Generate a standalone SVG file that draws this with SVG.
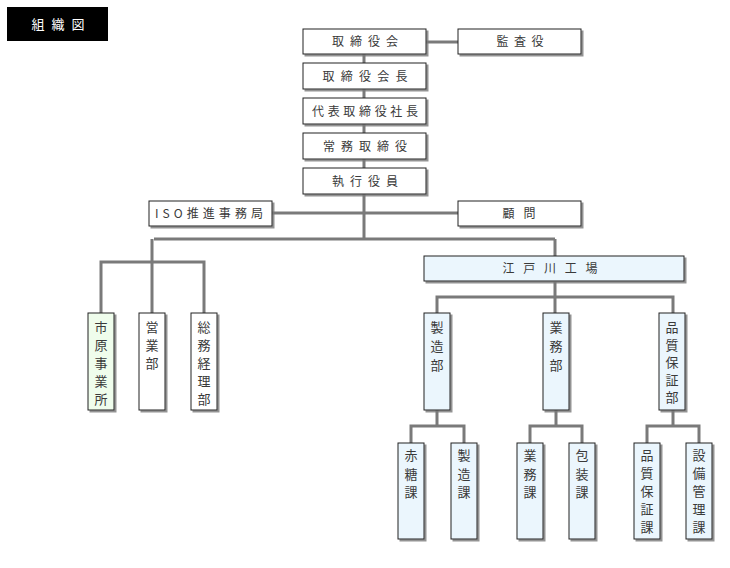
<svg xmlns="http://www.w3.org/2000/svg" width="730" height="568" viewBox="0 0 730 568">
<style>
.box{stroke:#222;stroke-width:1;filter:url(#sh)}
.w{fill:#fff}.b{fill:#ebf6fd}.g{fill:#effdec}
.t{font-family:"Noto Sans CJK JP","Noto Sans",sans-serif;font-size:12px;fill:#3a3a3a;text-anchor:middle}
.v{font-family:"Noto Sans CJK JP","Noto Sans",sans-serif;font-size:13px;fill:#3a3a3a;text-anchor:middle}
.ln{stroke:#7a7a7a;stroke-width:3;fill:none}
</style>
<defs>
<filter id="sh" x="-20%" y="-20%" width="150%" height="150%">
<feDropShadow dx="2" dy="2" stdDeviation="0.6" flood-color="#777" flood-opacity="0.8"/>
</filter>
</defs>
<rect width="730" height="568" fill="#fff"/>
<g id="title">
<rect x="7" y="7" width="101" height="34" fill="#000"/>
<text x="58" y="29" class="t" style="fill:#fff;font-size:13px" textLength="53" lengthAdjust="spacing">組織図</text>
</g>
<g id="connectors">
<path class="ln" d="M426 42H458M364 54V239M272 213H458M154 239H555M152 239V313M101 313V262H204V313M555 239V256M555 282V297M437 313V297H673V313M555 297V313M437 410V426M411 443V426H464V443M556 410V426M530 443V426H582V443M673 410V426M647 443V426H699V443"/>
</g>
<g id="n1"><rect class="box w" x="303" y="29" width="123" height="25"/><text class="t" x="365" y="46" textLength="66" lengthAdjust="spacing">取締役会</text></g>
<g id="n2"><rect class="box w" x="458" y="29" width="123" height="25"/><text class="t" x="520" y="46" textLength="47" lengthAdjust="spacing">監査役</text></g>
<g id="n3"><rect class="box w" x="303" y="63" width="123" height="26"/><text class="t" x="365" y="81" textLength="85" lengthAdjust="spacing">取締役会長</text></g>
<g id="n4"><rect class="box w" x="303" y="98" width="123" height="26"/><text class="t" x="365" y="116" textLength="106" lengthAdjust="spacing">代表取締役社長</text></g>
<g id="n5"><rect class="box w" x="303" y="133" width="123" height="26"/><text class="t" x="365" y="151" textLength="84" lengthAdjust="spacing">常務取締役</text></g>
<g id="n6"><rect class="box w" x="303" y="168" width="123" height="26"/><text class="t" x="365" y="186" textLength="66" lengthAdjust="spacing">執行役員</text></g>
<g id="n7"><rect class="box w" x="149" y="201" width="123" height="25"/><text class="t" x="209" y="218" textLength="108" lengthAdjust="spacing">ISO推進事務局</text></g>
<g id="n8"><rect class="box w" x="458" y="201" width="123" height="25"/><text class="t" x="519" y="218" textLength="33" lengthAdjust="spacing">顧問</text></g>
<g id="n9"><rect class="box b" x="424" y="256" width="260" height="25"/><text class="t" x="550" y="273" textLength="95" lengthAdjust="spacing">江戸川工場</text></g>
<g id="n10"><rect class="box g" x="88" y="313" width="26" height="97"/><text class="v" x="101" y="332"><tspan x="101">市</tspan><tspan x="101" dy="18">原</tspan><tspan x="101" dy="18">事</tspan><tspan x="101" dy="18">業</tspan><tspan x="101" dy="18">所</tspan></text></g>
<g id="n11"><rect class="box w" x="139" y="313" width="26" height="97"/><text class="v" x="152" y="332"><tspan x="152">営</tspan><tspan x="152" dy="18">業</tspan><tspan x="152" dy="18">部</tspan></text></g>
<g id="n12"><rect class="box w" x="191" y="313" width="26" height="97"/><text class="v" x="204" y="332"><tspan x="204">総</tspan><tspan x="204" dy="18">務</tspan><tspan x="204" dy="18">経</tspan><tspan x="204" dy="18">理</tspan><tspan x="204" dy="18">部</tspan></text></g>
<g id="n13"><rect class="box b" x="424" y="313" width="26" height="97"/><text class="v" x="437" y="332"><tspan x="437">製</tspan><tspan x="437" dy="19">造</tspan><tspan x="437" dy="19">部</tspan></text></g>
<g id="n14"><rect class="box b" x="543" y="313" width="26" height="97"/><text class="v" x="556" y="332"><tspan x="556">業</tspan><tspan x="556" dy="19">務</tspan><tspan x="556" dy="19">部</tspan></text></g>
<g id="n15"><rect class="box b" x="659" y="313" width="26" height="97"/><text class="v" x="672" y="332"><tspan x="672">品</tspan><tspan x="672" dy="17.5">質</tspan><tspan x="672" dy="17.5">保</tspan><tspan x="672" dy="17.5">証</tspan><tspan x="672" dy="17.5">部</tspan></text></g>
<g id="n16"><rect class="box b" x="398" y="443" width="26" height="96"/><text class="v" x="411" y="460"><tspan x="411">赤</tspan><tspan x="411" dy="18.5">糖</tspan><tspan x="411" dy="18.5">課</tspan></text></g>
<g id="n17"><rect class="box b" x="451" y="443" width="26" height="96"/><text class="v" x="464" y="460"><tspan x="464">製</tspan><tspan x="464" dy="18.5">造</tspan><tspan x="464" dy="18.5">課</tspan></text></g>
<g id="n18"><rect class="box b" x="517" y="443" width="26" height="96"/><text class="v" x="530" y="460"><tspan x="530">業</tspan><tspan x="530" dy="18.5">務</tspan><tspan x="530" dy="18.5">課</tspan></text></g>
<g id="n19"><rect class="box b" x="569" y="443" width="26" height="96"/><text class="v" x="582" y="460"><tspan x="582">包</tspan><tspan x="582" dy="18.5">装</tspan><tspan x="582" dy="18.5">課</tspan></text></g>
<g id="n20"><rect class="box b" x="634" y="443" width="26" height="96"/><text class="v" x="647" y="460"><tspan x="647">品</tspan><tspan x="647" dy="18">質</tspan><tspan x="647" dy="18">保</tspan><tspan x="647" dy="18">証</tspan><tspan x="647" dy="18">課</tspan></text></g>
<g id="n21"><rect class="box b" x="686" y="443" width="26" height="96"/><text class="v" x="699" y="460"><tspan x="699">設</tspan><tspan x="699" dy="18">備</tspan><tspan x="699" dy="18">管</tspan><tspan x="699" dy="18">理</tspan><tspan x="699" dy="18">課</tspan></text></g>
</svg>
